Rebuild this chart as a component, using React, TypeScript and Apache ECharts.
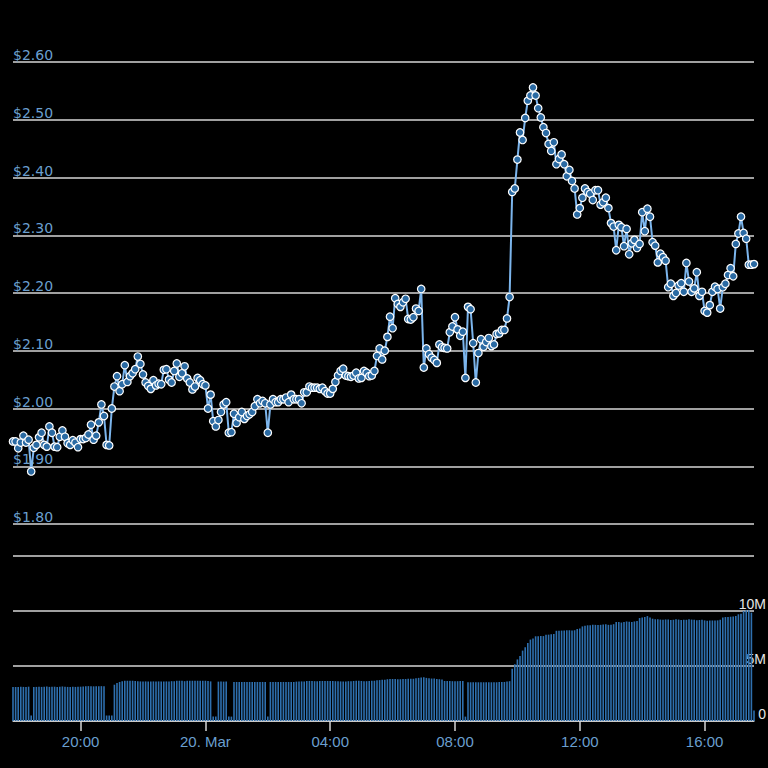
import React, { useEffect, useRef } from "react";
import * as echarts from "echarts";

// 5-minute samples starting 19 Mar 17:50
const START_MINUTE = 17 * 60 + 50;
const STEP_MINUTES = 5;

const PRICES = [
  1.943, 1.943, 1.931, 1.941, 1.953, 1.941, 1.946, 1.891, 1.932, 1.937,
  1.950, 1.958, 1.937, 1.934, 1.969, 1.958, 1.934, 1.933, 1.951, 1.962,
  1.951, 1.940, 1.937, 1.945, 1.941, 1.933, 1.947, 1.947, 1.949, 1.955,
  1.972, 1.946, 1.953, 1.976, 2.007, 1.987, 1.937, 1.936, 2.000, 2.038,
  2.056, 2.030, 2.042, 2.075, 2.046, 2.056, 2.061, 2.068, 2.090, 2.077,
  2.059, 2.045, 2.039, 2.034, 2.049, 2.040, 2.043,
  2.042, 2.067, 2.068, 2.050, 2.045, 2.065, 2.078, 2.055, 2.061, 2.073,
  2.052, 2.045, 2.033, 2.038, 2.053, 2.049, 2.042, 2.040, 2.000, 2.024,
  1.978, 1.969, 1.980, 1.994, 2.007, 2.011, 1.958, 1.959, 1.991, 1.975,
  1.985, 1.994, 1.982, 1.987, 1.990, 1.994, 2.004, 2.016, 2.009, 2.013,
  2.009, 1.958, 2.007, 2.016, 2.011, 2.011, 2.016, 2.016, 2.019, 2.011,
  2.024, 2.016, 2.016, 2.016, 2.009, 2.028, 2.028, 2.038,
  2.036, 2.036, 2.036, 2.034, 2.036, 2.030, 2.026, 2.026, 2.034, 2.046,
  2.057, 2.065, 2.069, 2.057, 2.056, 2.055, 2.057, 2.062, 2.052, 2.053,
  2.065, 2.062, 2.056, 2.057, 2.065, 2.091, 2.104, 2.085, 2.100, 2.124,
  2.159, 2.139, 2.191, 2.181, 2.176, 2.184, 2.190, 2.155, 2.154, 2.158,
  2.173, 2.169, 2.207, 2.071, 2.104, 2.094, 2.088, 2.084, 2.079, 2.111,
  2.106, 2.105, 2.104, 2.132, 2.142, 2.158, 2.137,
  2.126, 2.133, 2.053, 2.176, 2.172, 2.113, 2.045, 2.096, 2.120, 2.107,
  2.115, 2.122, 2.108, 2.111, 2.129, 2.130, 2.136, 2.136, 2.156, 2.193,
  2.375, 2.381, 2.431, 2.478, 2.465, 2.503, 2.533, 2.542, 2.556, 2.542,
  2.520, 2.504, 2.487, 2.477, 2.458, 2.446, 2.461, 2.423, 2.432, 2.440,
  2.423, 2.402, 2.413, 2.394, 2.381, 2.336, 2.347, 2.365, 2.381, 2.375,
  2.372, 2.361, 2.378, 2.378, 2.353, 2.357, 2.365, 2.347,
  2.321, 2.315, 2.274, 2.318, 2.314, 2.281, 2.311, 2.267, 2.286, 2.292,
  2.278, 2.285, 2.340, 2.307, 2.346, 2.332, 2.288, 2.282, 2.253, 2.268,
  2.262, 2.256, 2.210, 2.216, 2.195, 2.200, 2.213, 2.217, 2.202, 2.252,
  2.220, 2.202, 2.208, 2.236, 2.195, 2.202, 2.169, 2.166, 2.179, 2.202,
  2.211, 2.207, 2.173, 2.210, 2.216, 2.231, 2.243, 2.229, 2.285, 2.303,
  2.332, 2.304, 2.294, 2.249, 2.249, 2.250,
];

// volume in millions
const VOLUME_M = [
  3.10, 3.10, 3.10, 3.12, 3.10, 3.10, 3.12,
  0.50,
  3.10, 3.10, 3.12, 3.10, 3.12, 3.14, 3.10, 3.12, 3.12, 3.10, 3.12, 3.14, 3.12, 3.10, 3.10, 3.12, 3.10, 3.12,
  3.12, 3.14, 3.15, 3.17, 3.17, 3.15, 3.17, 3.17, 3.17, 3.17,
  0.50, 0.50, 0.50,
  3.30, 3.45, 3.55, 3.62, 3.66, 3.66,
  3.66, 3.66, 3.64, 3.62, 3.60, 3.60, 3.60, 3.60, 3.60, 3.60, 3.60, 3.60, 3.60, 3.60, 3.60, 3.60,
  3.62, 3.62, 3.66, 3.66, 3.66, 3.62, 3.66, 3.66, 3.66, 3.66, 3.66, 3.66, 3.66, 3.66, 3.64, 3.60,
  0.40, 0.40,
  3.58, 3.58, 3.58, 3.58,
  0.40, 0.40,
  3.55, 3.55, 3.55, 3.55, 3.55, 3.55, 3.55, 3.55, 3.55, 3.55, 3.55, 3.55, 3.55,
  0.40,
  3.55, 3.55, 3.55, 3.55, 3.55, 3.55, 3.55, 3.55, 3.55, 3.55, 3.58, 3.58, 3.60, 3.60,
  3.64, 3.64, 3.64, 3.62, 3.62, 3.64, 3.64, 3.64, 3.64, 3.64, 3.64, 3.62, 3.62, 3.60, 3.60, 3.60, 3.62, 3.62,
  3.64, 3.66, 3.66, 3.64, 3.62, 3.62, 3.64, 3.66, 3.66, 3.70, 3.72, 3.75, 3.75,
  3.80, 3.82, 3.82, 3.82, 3.80, 3.80, 3.82, 3.82, 3.84, 3.84, 3.84, 3.88, 3.92, 3.95, 3.97, 3.92, 3.88, 3.86, 3.86, 3.82, 3.80, 3.78,
  3.64, 3.64, 3.64, 3.62, 3.62, 3.62, 3.64, 3.64,
  0.40,
  3.52, 3.52, 3.52, 3.52, 3.52, 3.52, 3.52, 3.52, 3.52, 3.52, 3.52, 3.52, 3.54, 3.54, 3.55, 3.60, 3.62,
  4.75, 5.15, 5.60, 5.90, 6.40, 6.70, 7.10, 7.40, 7.50,
  7.70, 7.70, 7.72, 7.72,
  7.85, 7.85, 7.88, 7.90,
  8.20, 8.20, 8.22, 8.22, 8.25, 8.25, 8.22, 8.25,
  8.37, 8.40,
  8.60, 8.65, 8.70, 8.70, 8.74, 8.74, 8.72, 8.74, 8.78, 8.80, 8.74, 8.74, 8.80,
  9.00, 9.00, 8.95, 9.00, 9.05, 9.02, 9.00, 9.05, 9.10,
  9.36, 9.40, 9.45, 9.54, 9.40,
  9.30, 9.25, 9.25, 9.22, 9.20, 9.23, 9.23, 9.18, 9.20, 9.25, 9.22, 9.18, 9.20,
  9.20, 9.25, 9.22, 9.20, 9.15, 9.18, 9.20, 9.15, 9.12, 9.14, 9.14, 9.14, 9.15, 9.20,
  9.40, 9.45, 9.45, 9.48, 9.50, 9.55,
  9.70, 9.75,
  10.00, 10.06, 10.06,
  9.85,
  0.95,
];

const TICK_TIMES = ["20:00", "00:00", "04:00", "08:00", "12:00", "16:00"];
const TICK_TEXT = ["20:00", "20. Mar", "04:00", "08:00", "12:00", "16:00"];

const pad = (n: number) => (n < 10 ? "0" + n : "" + n);
const TIMES = PRICES.map((_, i) => {
  const m = (START_MINUTE + i * STEP_MINUTES) % 1440;
  return pad(Math.floor(m / 60)) + ":" + pad(m % 60);
});

const GRID_COLOR = "#d6d6d6";
const LABEL_BLUE = "#6a9fcf";

export default function App() {
  const ref = useRef<HTMLDivElement>(null);

  useEffect(() => {
    if (!ref.current) return;
    const chart = echarts.init(ref.current, undefined, { renderer: "svg" });
    const isTick = (_i: number, v: string) => TICK_TIMES.indexOf(v) >= 0;
    chart.setOption({
      animation: false,
      backgroundColor: "#000000",
      grid: [
        { left: 13, right: 14, top: 62, height: 462, containLabel: false, outerBoundsMode: "none" },
        { left: 13, right: 14, top: 556, height: 165, containLabel: false, outerBoundsMode: "none" },
      ],
      xAxis: [
        { type: "category", gridIndex: 0, data: TIMES, boundaryGap: false, show: false },
        {
          type: "category",
          gridIndex: 1,
          data: TIMES,
          boundaryGap: false,
          axisLine: { show: true, lineStyle: { color: GRID_COLOR, width: 1.5 } },
          axisTick: { show: true, interval: isTick, length: 10, lineStyle: { color: GRID_COLOR, width: 1.5 } },
          axisLabel: {
            interval: isTick,
            formatter: (v: string) => TICK_TEXT[TICK_TIMES.indexOf(v)] ?? v,
            color: LABEL_BLUE,
            fontFamily: "Liberation Sans",
            fontSize: 15,
            margin: 13,
          },
          splitLine: { show: false },
        },
      ],
      yAxis: [
        {
          type: "value",
          gridIndex: 0,
          min: 1.8,
          max: 2.6,
          interval: 0.1,
          position: "left",
          axisLine: { show: false },
          axisTick: { show: false },
          axisLabel: {
            inside: true,
            margin: 0,
            verticalAlign: "bottom",
            formatter: (v: number) => "$" + v.toFixed(2),
            color: LABEL_BLUE,
            fontFamily: "DejaVu Sans",
            fontSize: 14,
          },
          splitLine: { show: true, lineStyle: { color: GRID_COLOR, width: 1.5 } },
        },
        {
          type: "value",
          gridIndex: 1,
          min: 0,
          max: 15,
          interval: 5,
          position: "right",
          axisLine: { show: false },
          axisTick: { show: false },
          axisLabel: {
            showMaxLabel: false,
            align: "right",
            margin: 12,
            verticalAlign: "bottom",
            formatter: (v: number) => (v === 0 ? "0" : v + "M"),
            color: "#e6e6e6",
            fontFamily: "Liberation Sans",
            fontSize: 14,
          },
          splitLine: { show: true, lineStyle: { color: GRID_COLOR, width: 1.5 } },
        },
      ],
      series: [
        {
          type: "line",
          xAxisIndex: 0,
          yAxisIndex: 0,
          data: PRICES,
          symbol: "circle",
          symbolSize: 7.5,
          showAllSymbol: true,
          lineStyle: { color: "#7cb5ec", width: 2 },
          itemStyle: { color: "#2a6aa3", borderColor: "#ffffff", borderWidth: 1.2 },
        },
        {
          type: "bar",
          xAxisIndex: 1,
          yAxisIndex: 1,
          data: VOLUME_M,
          barWidth: 1.6,
          itemStyle: { color: "#2e6fae" },
        },
      ],
    });
    return () => chart.dispose();
  }, []);

  return (
    <div
      ref={ref}
      style={{ position: "fixed", left: 0, top: 0, width: 768, height: 768 }}
    />
  );
}
